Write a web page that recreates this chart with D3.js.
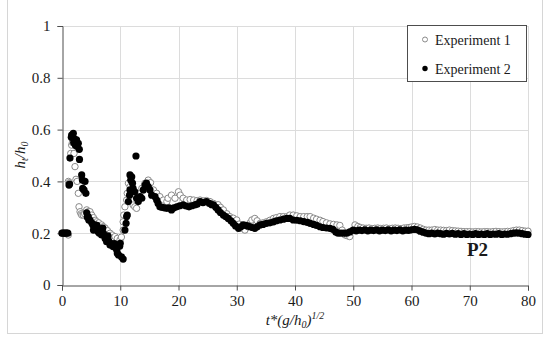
<!DOCTYPE html>
<html><head><meta charset="utf-8">
<script src="https://cdn.jsdelivr.net/npm/d3@7"></script>
<style>body{margin:0;background:#fff}svg{display:block}text{font-family:"Liberation Serif","DejaVu Serif",serif !important;fill:#1a1a1a}</style>
</head><body><svg id="c" width="550" height="343"></svg>
<script>
const xTicks=[0,10,20,30,40,50,60,70,80];
const yTicks=[0,0.2,0.4,0.6,0.8,1];
const yTickLabels=["0","0.2","0.4","0.6","0.8","1"];
const seriesNames=["Experiment 1","Experiment 2"];
const exp1=[[0,0.2],[0.3,0.2],[0.6,0.2],[0.9,0.2],[1.08,0.193],[1.1,0.4],[1.25,0.395],
[1.5,0.508],[1.66,0.54],[1.8,0.55],[2.06,0.508],[2.23,0.457],[2.4,0.408],[2.6,0.4],[2.8,0.354],[2.92,0.302],[3.1,0.283],[3.26,0.275],[3.4,0.27],[3.66,0.27],[3.9,0.275],[4.24,0.29],[4.5,0.283],[4.8,0.283],[5.1,0.27],[5.4,0.26],[5.7,0.25],[5.95,0.244],[6.3,0.24],[6.8,0.232],[7.1,0.225],[7.4,0.22],[7.8,0.21],[8.24,0.2],[8.6,0.193],[9.1,0.187],[9.5,0.18],[9.96,0.174],[10.2,0.185],[10.5,0.212],[10.5,0.244],[10.6,0.27],[10.8,0.302],[11.1,0.328],[11.2,0.354],[11.4,0.393],[11.7,0.38],[12,0.367],[12.2,0.309],[12.5,0.302],[12.8,0.296],[13.1,0.33],[13.4,0.354],[13.7,0.373],[14.25,0.393],[14.8,0.405],[15.2,0.395],[15.7,0.367],[16.25,0.354],[16.8,0.341],[17.4,0.328],[18,0.322],[18.2,0.335],[18.8,0.347],[19.4,0.335],[20,0.36],[20.3,0.347],[20.8,0.335],[21.4,0.328],[22,0.33],[22.6,0.328],[23.2,0.326],[23.7,0.328],[24.3,0.325],[24.8,0.326],[25.4,0.322],[26,0.315],[26.8,0.31],[27.2,0.3],[27.7,0.29],[28.3,0.275],[28.8,0.264],[29.4,0.258],[30,0.251],[30.4,0.235],[30.85,0.219],[31.4,0.212],[31.9,0.225],[32.3,0.24],[32.6,0.251],[33.1,0.257],[33.5,0.248],[34,0.238],[34.5,0.24],[35.1,0.244],[35.7,0.25],[36.3,0.257],[36.8,0.26],[37.4,0.264],[38,0.264],[38.6,0.264],[39.1,0.27],[39.7,0.27],[40.3,0.267],[40.9,0.264],[41.5,0.264],[42.1,0.264],[42.6,0.264],[43.2,0.258],[43.7,0.254],[44.3,0.25],[44.8,0.245],[45.4,0.24],[46,0.236],[46.6,0.234],[47.2,0.232],[47.7,0.23],[48.1,0.212],[48.6,0.193],[49,0.19],[49.4,0.187],[49.8,0.21],[50.3,0.232],[50.8,0.226],[51.2,0.222],[51.7,0.22],[52.2,0.219],[52.7,0.22],[53.2,0.218],[53.7,0.219],[54.2,0.22],[54.7,0.218],[55.2,0.219],[55.7,0.22],[56.2,0.218],[56.7,0.219],[57.2,0.22],[57.7,0.219],[58.2,0.218],[58.7,0.22],[59.2,0.221],[59.6,0.222],[60,0.224],[60.5,0.226],[61,0.224],[61.5,0.22],[62,0.215],[62.5,0.212],[63,0.212],[63.5,0.212],[64,0.214],[64.5,0.212],[65,0.212],[65.5,0.211],[66,0.21],[66.5,0.212],[67,0.21],[67.5,0.209],[68,0.208],[68.5,0.207],[69,0.206],[69.5,0.206],[70,0.206],[70.5,0.205],[71,0.206],[71.5,0.206],[72,0.205],[72.5,0.206],[73,0.206],[73.5,0.205],[74,0.206],[74.5,0.207],[75,0.206],[75.5,0.205],[76,0.206],[76.5,0.207],[77,0.207],[77.5,0.21],[78,0.212],[78.5,0.212],[79,0.21],[79.5,0.208],[80,0.208]];
const exp2=[[0,0.2],[0.25,0.2],[0.5,0.2],[0.75,0.2],[1.0,0.2],[1.2,0.386],[1.3,0.39],
[1.37,0.49],[1.6,0.57],[1.66,0.579],[1.94,0.586],[2.0,0.55],[2.1,0.565],[2.23,0.553],[2.3,0.54],[2.4,0.545],[2.5,0.56],[2.6,0.535],[2.8,0.547],[2.97,0.524],[3.0,0.485],[3.38,0.425],[3.5,0.405],[3.95,0.40],[3.55,0.373],[3.78,0.367],[4.1,0.354],
[4.24,0.279],[4.35,0.262],[4.5,0.264],[4.6,0.251],[4.8,0.251],[5.1,0.24],[5.3,0.232],[5.4,0.212],[5.67,0.232],[5.9,0.22],[6.0,0.23],[6.2,0.206],[6.4,0.2],[6.5,0.215],[6.8,0.193],[7.0,0.22],[7.1,0.2],[7.4,0.18],[7.66,0.167],[7.9,0.19],[8.0,0.17],[8.24,0.154],[8.5,0.16],[8.8,0.148],[9.0,0.16],[9.2,0.145],[9.4,0.135],[9.5,0.122],[9.7,0.116],[9.9,0.15],[10.0,0.161],[10.2,0.109],[10.5,0.1],
[10.8,0.212],[11.0,0.238],[11.1,0.264],[11.2,0.27],[11.4,0.322],[11.6,0.347],[11.67,0.367],[11.8,0.405],[11.67,0.425],[11.97,0.418],[12.1,0.393],[12.2,0.373],[12.5,0.36],[12.7,0.498],[12.8,0.335],[13.1,0.322],[13.4,0.341],[13.7,0.335],[13.96,0.367],[14.25,0.386],[14.5,0.393],[14.8,0.38],[15.1,0.367],[15.4,0.347],[15.97,0.341],[16.25,0.328],[16.5,0.315],[16.8,0.302],[17.2,0.3],[17.6,0.298],[18,0.296],[18.4,0.298],[18.8,0.29],[19.2,0.298],[19.7,0.302],[20.2,0.306],[20.8,0.309],[21.3,0.305],[21.8,0.302],[22.3,0.306],[22.8,0.309],[23.2,0.312],[23.7,0.322],[24.2,0.318],[24.8,0.322],[25.3,0.315],[25.7,0.31],[26,0.309],[26.4,0.3],[26.8,0.29],[27.2,0.28],[27.7,0.27],[28.1,0.264],[28.55,0.257],[29,0.248],[29.4,0.238],[29.8,0.228],[30.3,0.219],[30.7,0.225],[31.1,0.232],[31.5,0.23],[31.9,0.228],[32.3,0.225],[32.7,0.222],[33.1,0.219],[33.5,0.225],[34,0.232],[34.5,0.234],[35.1,0.238],[35.7,0.24],[36.3,0.244],[36.8,0.248],[37.4,0.251],[38,0.254],[38.6,0.257],[39.1,0.257],[39.7,0.251],[40.3,0.25],[40.9,0.248],[41.5,0.245],[42.1,0.242],[42.6,0.238],[43.2,0.234],[43.7,0.23],[44.3,0.225],[44.8,0.222],[45.4,0.22],[46,0.219],[46.5,0.215],[47,0.205],[47.4,0.2],[47.9,0.2],[48.4,0.2],[48.9,0.2],[49.4,0.205],[50,0.212],[50.5,0.209],[51,0.212],[51.5,0.21],[52,0.213],[52.5,0.209],[53,0.212],[53.5,0.21],[54,0.213],[54.5,0.209],[55,0.212],[55.5,0.21],[56,0.213],[56.5,0.209],[57,0.212],[57.5,0.21],[58,0.213],[58.5,0.209],[59,0.212],[59.5,0.211],[60,0.213],[60.5,0.215],[61,0.213],[61.5,0.208],[62,0.204],[62.5,0.2],[63,0.198],[63.5,0.2],[64,0.197],[64.5,0.2],[65,0.198],[65.5,0.196],[66,0.199],[66.5,0.197],[67,0.199],[67.5,0.196],[68,0.198],[68.5,0.195],[69,0.198],[69.5,0.195],[70,0.197],[70.5,0.195],[71,0.198],[71.5,0.195],[72,0.197],[72.5,0.195],[73,0.198],[73.5,0.195],[74,0.197],[74.5,0.196],[75,0.198],[75.5,0.195],[76,0.197],[76.5,0.196],[77,0.198],[77.5,0.2],[78,0.201],[78.5,0.2],[79,0.198],[79.5,0.196],[80,0.195]];

const svg=d3.select("#c");
const x=d3.scaleLinear().domain([0,80]).range([62,528]);
const y=d3.scaleLinear().domain([0,1]).range([285,26]);

svg.append("rect").attr("x",7.5).attr("y",-2).attr("width",535).attr("height",335.5)
  .attr("fill","none").attr("stroke","#d6d6d6");

svg.append("g").selectAll("line").data(xTicks.slice(1)).join("line")
  .attr("x1",d=>Math.round(x(d))+0.5).attr("x2",d=>Math.round(x(d))+0.5)
  .attr("y1",y(1)).attr("y2",y(0)).attr("stroke","#dcdcdc");
svg.append("g").selectAll("line").data(yTicks.slice(1)).join("line")
  .attr("y1",d=>Math.round(y(d))+0.5).attr("y2",d=>Math.round(y(d))+0.5)
  .attr("x1",x(0)).attr("x2",x(80)).attr("stroke","#dcdcdc");

const ax=svg.append("g").attr("transform",`translate(0,${Math.round(y(0))+0.5})`)
  .call(d3.axisBottom(x).tickValues(xTicks).tickSize(5).tickPadding(5).tickFormat(d3.format("d")));
const ay=svg.append("g").attr("transform",`translate(${Math.round(x(0))+0.5},0)`)
  .call(d3.axisLeft(y).tickValues(yTicks).tickSize(5).tickPadding(7).tickFormat((d,i)=>yTickLabels[i]));
[ax,ay].forEach(g=>{
  g.attr("font-family",null);
  g.select(".domain").attr("stroke","#4d4d4d");
  g.selectAll(".tick line").attr("stroke","#4d4d4d");
  g.selectAll(".tick text").attr("font-size",15).attr("fill","#1a1a1a");
});

svg.append("g").selectAll("circle").data(exp1).join("circle")
  .attr("cx",d=>x(d[0])).attr("cy",d=>y(d[1])).attr("r",3.2)
  .attr("fill","#fff").attr("stroke","#8a8a8a").attr("stroke-width",1);
svg.append("g").selectAll("circle").data(exp2).join("circle")
  .attr("cx",d=>x(d[0])).attr("cy",d=>y(d[1])).attr("r",3.6)
  .attr("fill","#000");

const xt=svg.append("text").attr("x",295).attr("y",325).attr("text-anchor","middle")
  .attr("font-size",15).attr("font-style","italic");
xt.append("tspan").text("t*(g/h");
xt.append("tspan").attr("font-size",10).attr("dy",3).text("0");
xt.append("tspan").attr("dy",-3).text(")");
xt.append("tspan").attr("font-size",10).attr("dy",-6).text("1/2");

const yt=svg.append("text").attr("transform","translate(25,155) rotate(-90)").attr("text-anchor","middle")
  .attr("font-size",15).attr("font-style","italic");
yt.append("tspan").text("h");
yt.append("tspan").attr("font-size",10).attr("dy",3).text("t");
yt.append("tspan").attr("dy",-3).text("/h");
yt.append("tspan").attr("font-size",10).attr("dy",3).text("0");

svg.append("text").attr("x",467).attr("y",256).attr("font-size",19).attr("font-weight","bold").text("P2");

const lg=svg.append("g");
lg.append("rect").attr("x",407.5).attr("y",25.5).attr("width",119).attr("height",56)
  .attr("fill","#fff").attr("stroke","#4d4d4d");
seriesNames.forEach((n,i)=>{
  const cy=39.5+i*29;
  if(i===0) lg.append("circle").attr("cx",425).attr("cy",cy).attr("r",2.5).attr("fill","#fff").attr("stroke","#8a8a8a");
  else lg.append("circle").attr("cx",425).attr("cy",cy).attr("r",2.7).attr("fill","#000");
  lg.append("text").attr("x",435).attr("y",cy+5).attr("font-size",14).text(n);
});
</script></body></html>
